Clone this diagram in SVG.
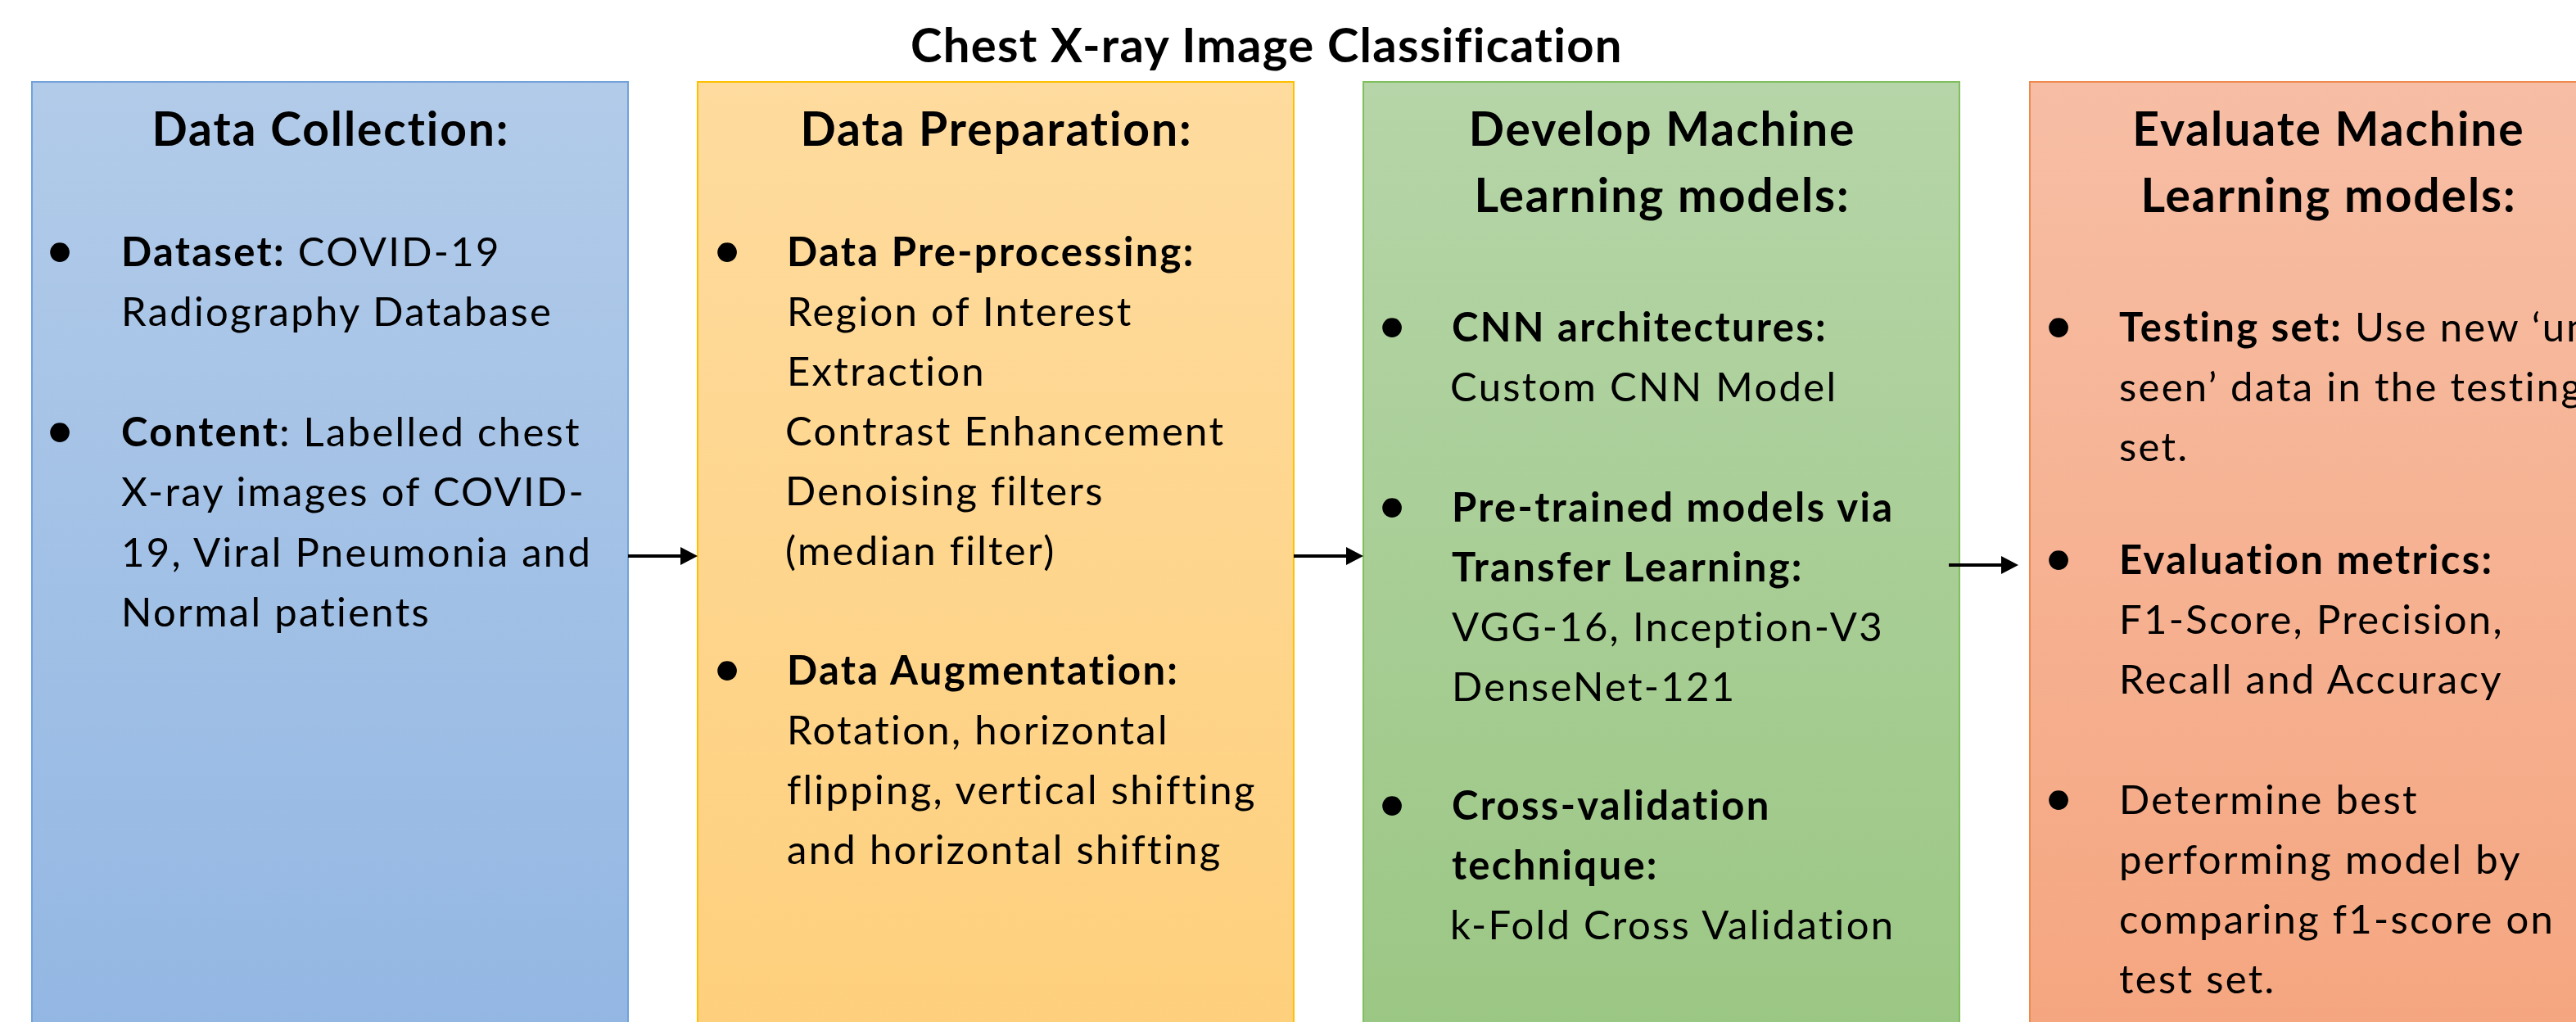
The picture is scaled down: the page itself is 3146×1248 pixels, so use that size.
<svg xmlns="http://www.w3.org/2000/svg" width="3146" height="1248" viewBox="0 0 3146 1248">
<style>
text{font-family:Lato,"Liberation Sans",sans-serif;fill:#000}
.t{font-size:58px;font-weight:700;letter-spacing:1.3px}
.h{font-size:57px;font-weight:700;text-anchor:middle;letter-spacing:1.9px}
.b{font-size:49px;letter-spacing:2.3px}
.bu{font-size:64px;text-anchor:middle}
.k{font-weight:700}
.conn line{stroke:#000;stroke-width:4}
</style>
<defs>
<linearGradient id="gBlue" x1="0" y1="0" x2="0" y2="1"><stop offset="0" stop-color="#b2cbe9"/><stop offset="1" stop-color="#93b7e3"/></linearGradient>
<linearGradient id="gYel" x1="0" y1="0" x2="0" y2="1"><stop offset="0" stop-color="#fedb9e"/><stop offset="1" stop-color="#fed07d"/></linearGradient>
<linearGradient id="gGrn" x1="0" y1="0" x2="0" y2="1"><stop offset="0" stop-color="#b6d5a8"/><stop offset="1" stop-color="#9bc784"/></linearGradient>
<linearGradient id="gSal" x1="0" y1="0" x2="0" y2="1"><stop offset="0" stop-color="#f7bea5"/><stop offset="1" stop-color="#f5a680"/></linearGradient>
<marker id="ah" markerUnits="userSpaceOnUse" markerWidth="22" markerHeight="22" refX="11" refY="11" orient="auto"><path d="M0,0 L21,11 L0,22 Z" fill="#000"/></marker>
</defs>
<rect width="3146" height="1248" fill="#fff"/>
<text class="t" x="1547" y="76" text-anchor="middle">Chest X-ray Image Classification</text>

<g id="node-data-collection">
<rect x="39" y="100" width="728" height="1160" fill="url(#gBlue)" stroke="#72a2da" stroke-width="2"/>
<text class="h" x="404" y="178">Data Collection:</text>
<text class="bu" x="73" y="327">•</text>
<text class="b" x="148" y="325"><tspan class="k">Dataset:</tspan> COVID-19</text>
<text class="b" x="148" y="398">Radiography Database</text>
<text class="bu" x="73" y="547">•</text>
<text class="b" x="148" y="545"><tspan class="k">Content</tspan>: Labelled chest</text>
<text class="b" x="148" y="618">X-ray images of COVID-</text>
<text class="b" x="148" y="692">19, Viral Pneumonia and</text>
<text class="b" x="148" y="765">Normal patients</text>
</g>

<g id="node-data-preparation">
<rect x="852" y="100" width="728" height="1160" fill="url(#gYel)" stroke="#ffc000" stroke-width="2"/>
<text class="h" x="1217" y="178">Data Preparation:</text>
<text class="bu" x="888" y="327">•</text>
<text class="b k" x="961" y="325">Data Pre-processing:</text>
<text class="b" x="961" y="398">Region of Interest</text>
<text class="b" x="961" y="471">Extraction</text>
<text class="b" x="959" y="544">Contrast Enhancement</text>
<text class="b" x="959" y="617">Denoising filters</text>
<text class="b" x="959" y="690">(median filter)</text>
<text class="bu" x="888" y="838">•</text>
<text class="b k" x="961" y="836">Data Augmentation:</text>
<text class="b" x="961" y="909">Rotation, horizontal</text>
<text class="b" x="961" y="982">flipping, vertical shifting</text>
<text class="b" x="961" y="1055">and horizontal shifting</text>
</g>

<g id="node-develop-models">
<rect x="1665" y="100" width="728" height="1160" fill="url(#gGrn)" stroke="#80be5e" stroke-width="2"/>
<text class="h" x="2030" y="178">Develop Machine</text>
<text class="h" x="2030" y="259">Learning models:</text>
<text class="bu" x="1700" y="419">•</text>
<text class="b k" x="1773" y="417">CNN architectures:</text>
<text class="b" x="1771" y="490">Custom CNN Model</text>
<text class="bu" x="1700" y="639">•</text>
<text class="b k" x="1773" y="637">Pre-trained models via</text>
<text class="b k" x="1773" y="710">Transfer Learning:</text>
<text class="b" x="1773" y="783">VGG-16, Inception-V3</text>
<text class="b" x="1773" y="856">DenseNet-121</text>
<text class="bu" x="1700" y="1003">•</text>
<text class="b k" x="1773" y="1001">Cross-validation</text>
<text class="b k" x="1773" y="1074">technique:</text>
<text class="b" x="1771" y="1147">k-Fold Cross Validation</text>
</g>

<g id="node-evaluate-models">
<rect x="2479" y="100" width="728" height="1160" fill="url(#gSal)" stroke="#ee8a4e" stroke-width="2"/>
<text class="h" x="2844" y="178">Evaluate Machine</text>
<text class="h" x="2844" y="259">Learning models:</text>
<text class="bu" x="2514" y="419">•</text>
<text class="b" x="2588" y="417"><tspan class="k">Testing set:</tspan> Use new ‘un</text>
<text class="b" x="2588" y="490">seen’ data in the testing</text>
<text class="b" x="2588" y="563">set.</text>
<text class="bu" x="2514" y="703">•</text>
<text class="b k" x="2588" y="701">Evaluation metrics:</text>
<text class="b" x="2588" y="774">F1-Score, Precision,</text>
<text class="b" x="2588" y="847">Recall and Accuracy</text>
<text class="bu" x="2514" y="996">•</text>
<text class="b" x="2588" y="994">Determine best</text>
<text class="b" x="2588" y="1067">performing model by</text>
<text class="b" x="2588" y="1140">comparing f1-score on</text>
<text class="b" x="2588" y="1213">test set.</text>
</g>

<g id="connectors" class="conn">
<line x1="767" y1="679" x2="842" y2="679" marker-end="url(#ah)"/>
<line x1="1580" y1="679" x2="1655" y2="679" marker-end="url(#ah)"/>
<line x1="2380" y1="690" x2="2455" y2="690" marker-end="url(#ah)"/>
</g>
</svg>
